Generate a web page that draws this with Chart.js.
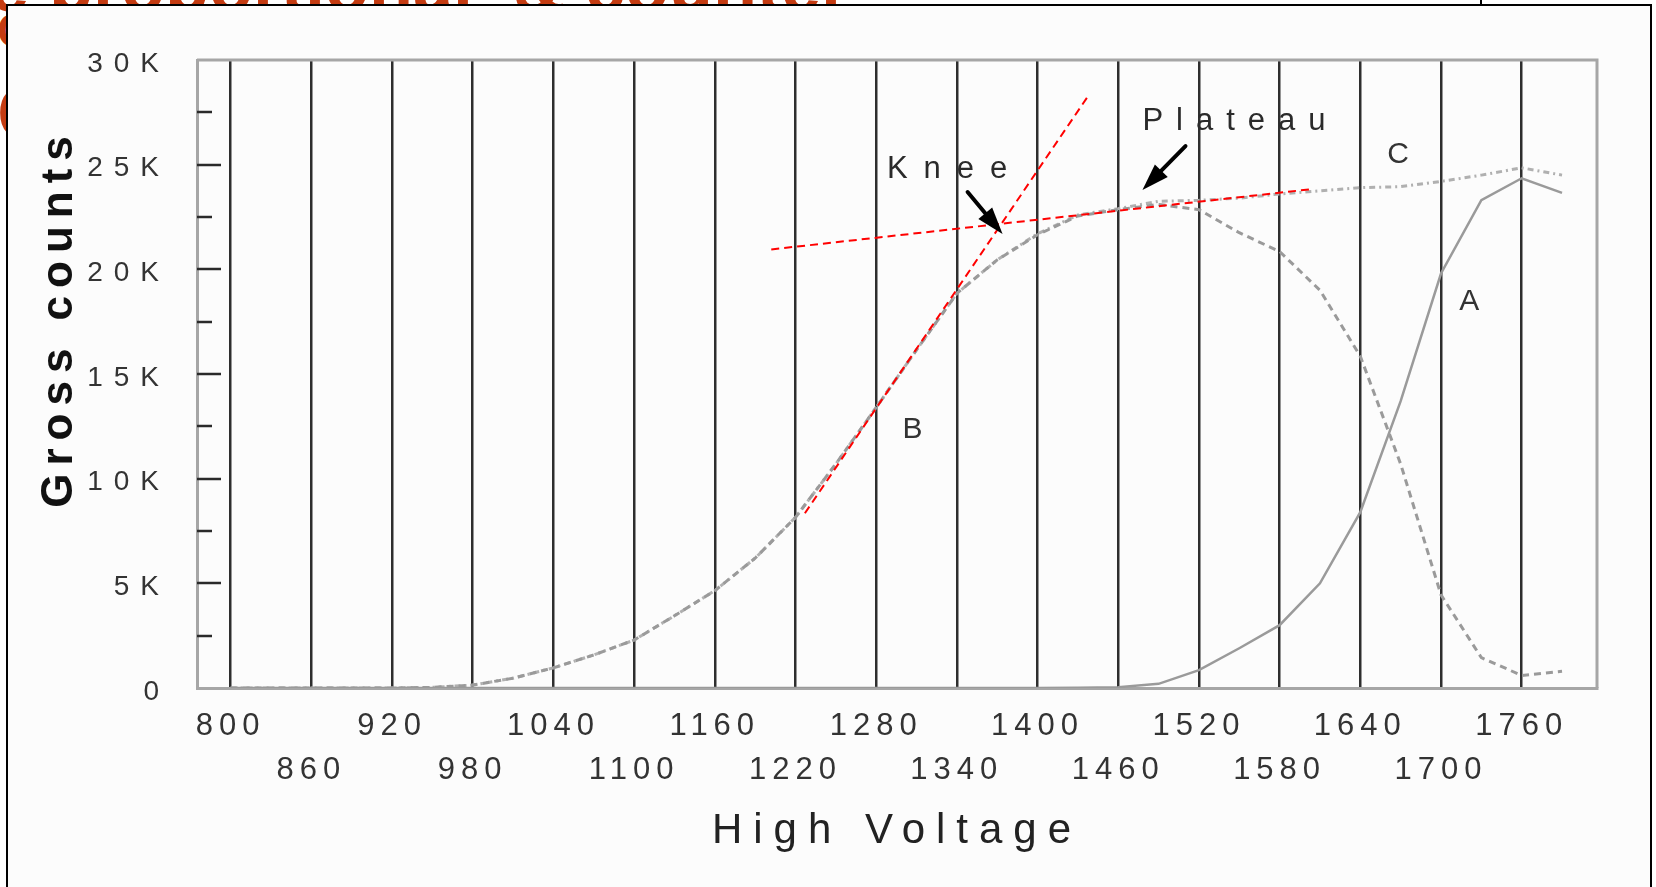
<!DOCTYPE html>
<html>
<head>
<meta charset="utf-8">
<title>Gross counts vs High Voltage</title>
<script src="https://cdn.jsdelivr.net/npm/chart.js@4.4.0/dist/chart.umd.min.js"></script>
<style>
  html, body { margin: 0; padding: 0; background: #fff; overflow: hidden; }
  #page { position: relative; width: 1656px; height: 887px; overflow: hidden; background: #fff; }
  .slide-title {
    position: absolute; left: -55px; top: -50px;
    font: bold 72px "Liberation Sans", Arial, sans-serif; color: #c43c12;
    white-space: pre; line-height: 72px;
  }
  .slide-side {
    position: absolute; left: -3px;
    font: bold 48px "Liberation Sans", Arial, sans-serif; color: #c43c12;
  }
  #frame {
    position: absolute; left: 6px; top: 4px; width: 1642px; height: 920px;
    border: 2px solid #000; background: #fcfcfc;
  }
  #notch { position: absolute; left: 1480px; top: 0; width: 2px; height: 6px; background: #000; }
  #chart { position: absolute; left: 0; top: 0; }
</style>
</head>
<body>
<div id="page">
  <div class="slide-title">ge proportional  &amp; counter</div>
  <div class="slide-side" style="top:7px; line-height:48px">G</div>
  <div class="slide-side" style="top:75px; font-size:76px; line-height:76px">C</div>
  <div id="notch"></div>
  <div id="frame"></div>
  <canvas id="chart" width="1656" height="887"></canvas>
</div>
<script>
// High voltage settings (V)
const voltages = [800, 830, 860, 890, 920, 950, 980, 1010, 1040, 1070, 1100, 1130, 1160, 1190, 1220, 1250, 1280, 1310, 1340, 1370, 1400, 1430, 1460, 1490, 1520, 1550, 1580, 1610, 1640, 1670, 1700, 1730, 1760, 1790];

// Gross counts, curve A (solid)
const countsA = [0, 0, 0, 0, 0, 0, 0, 0, 0, 0, 0, 0, 0, 0, 0, 0, 0, 0, 0, 0, 0, 10, 40, 200, 850, 1900, 3000, 5000, 8400, 13700, 19800, 23300, 24350, 23650];

// Gross counts, curve B (dashed)
const countsB = [0, 0, 0, 0, 0, 30, 140, 470, 960, 1580, 2290, 3450, 4650, 6200, 8150, 10700, 13400, 16150, 18850, 20450, 21650, 22550, 22850, 23100, 22850, 21750, 20850, 19000, 15850, 10700, 4450, 1450, 600, 800];

// Gross counts, curve C (dotted)
const countsC = [0, 0, 0, 0, 0, 30, 140, 470, 960, 1580, 2290, 3450, 4650, 6200, 8150, 10700, 13400, 16150, 18850, 20450, 21700, 22600, 22900, 23250, 23300, 23400, 23600, 23750, 23900, 23950, 24200, 24500, 24850, 24500];

// axis ticks
const xTickValues = [800, 860, 920, 980, 1040, 1100, 1160, 1220, 1280, 1340, 1400, 1460, 1520, 1580, 1640, 1700, 1760];
const yTickValues = [0, 2500, 5000, 7500, 10000, 12500, 15000, 17500, 20000, 22500, 25000, 27500, 30000];

// red tangent lines (knee construction)
const kneeLineX = [1227, 1437];
const kneeLineY = [8350, 28220];
const plateauLineX = [1202, 1605];
const plateauLineY = [20950, 23840];

// text labels and arrows, in data units
const curveLabels = [
  { text: 'A', x: 1721, y: 18440 },
  { text: 'B', x: 1307, y: 12330 },
  { text: 'C', x: 1668, y: 25460 }
];
const calloutLabels = [
  { text: 'Knee', x: 1288, y: 24360, tailX: 1348, tailY: 23690, headX: 1374, headY: 21690 },
  { text: 'Plateau', x: 1478, y: 26660, tailX: 1510, tailY: 25890, headX: 1478, headY: 23790 }
];

const toPoints = (xs, ys) => xs.map((x, i) => ({ x: x, y: ys[i] }));

function formatCounts(v) {
  if (v === 0) return '0';
  if (v % 5000 !== 0) return '';
  return (v / 1000) + 'K';
}

function drawArrow(ctx, x1, y1, x2, y2) {
  const ang = Math.atan2(y2 - y1, x2 - x1);
  const headLen = 27, headW = 9;
  const bx = x2 - headLen * Math.cos(ang), by = y2 - headLen * Math.sin(ang);
  ctx.beginPath();
  ctx.moveTo(x1, y1);
  ctx.lineTo(bx, by);
  ctx.lineWidth = 4;
  ctx.lineCap = 'round';
  ctx.strokeStyle = '#000';
  ctx.stroke();
  ctx.beginPath();
  ctx.moveTo(x2, y2);
  ctx.lineTo(bx + headW * Math.sin(ang), by - headW * Math.cos(ang));
  ctx.lineTo(bx - headW * Math.sin(ang), by + headW * Math.cos(ang));
  ctx.closePath();
  ctx.fillStyle = '#000';
  ctx.fill();
}

// tick labels are letter-spaced in the original
const spacedLabels = {
  id: 'spacedLabels',
  beforeDraw(chart) {
    const spacing = { x: '6px', y: '11px' };
    Object.values(chart.scales).forEach(s => {
      if (s._spaced) return;
      const orig = s.drawLabels;
      s.drawLabels = function(area) {
        const c = this.ctx;
        const prev = c.letterSpacing;
        c.letterSpacing = spacing[this.id] || '0px';
        orig.call(this, area);
        c.letterSpacing = prev;
      };
      s._spaced = true;
    });
  }
};

// top/right frame and inward minor/major ticks on the count axis
const plotFrame = {
  id: 'plotFrame',
  beforeDatasetsDraw(chart) {
    const { ctx, chartArea: a, scales: { y } } = chart;
    ctx.save();
    ctx.strokeStyle = '#a6a6a6';
    ctx.lineWidth = 3;
    ctx.beginPath();
    ctx.moveTo(a.left, a.top);
    ctx.lineTo(a.right, a.top);
    ctx.lineTo(a.right, a.bottom);
    ctx.stroke();
    ctx.strokeStyle = '#2a2a2a';
    ctx.lineWidth = 2.5;
    y.ticks.forEach(t => {
      if (t.value === 0 || t.value === 30000) return;
      const py = Math.round(y.getPixelForValue(t.value));
      const len = t.value % 5000 === 0 ? 24 : 15;
      ctx.beginPath();
      ctx.moveTo(a.left, py);
      ctx.lineTo(a.left + len, py);
      ctx.stroke();
    });
    ctx.restore();
  }
};

// axis titles, curve letters, Knee / Plateau callouts
const annotations = {
  id: 'annotations',
  afterDatasetsDraw(chart) {
    const { ctx, chartArea: a, scales: { x, y } } = chart;
    ctx.save();
    ctx.fillStyle = '#333';
    ctx.font = '30px "Liberation Sans", Arial, sans-serif';
    ctx.textAlign = 'center';
    ctx.textBaseline = 'middle';
    curveLabels.forEach(l => ctx.fillText(l.text, x.getPixelForValue(l.x), y.getPixelForValue(l.y)));

    calloutLabels.forEach(l => {
      ctx.fillStyle = '#2a2a2a';
      ctx.font = '31px "Liberation Sans", Arial, sans-serif';
      ctx.textAlign = 'left';
      ctx.textBaseline = 'alphabetic';
      ctx.letterSpacing = l.text === 'Knee' ? '16px' : '13px';
      ctx.fillText(l.text, x.getPixelForValue(l.x), y.getPixelForValue(l.y));
      ctx.letterSpacing = '0px';
      drawArrow(ctx, x.getPixelForValue(l.tailX), y.getPixelForValue(l.tailY),
                x.getPixelForValue(l.headX), y.getPixelForValue(l.headY));
    });

    // x axis title
    ctx.fillStyle = '#222';
    ctx.font = '42px "Liberation Sans", Arial, sans-serif';
    ctx.textAlign = 'center';
    ctx.textBaseline = 'middle';
    ctx.letterSpacing = '11px';
    ctx.fillText('High Voltage', (a.left + a.right) / 2, a.bottom + 143);

    // y axis title
    ctx.translate(60, a.top + 258);
    ctx.rotate(-Math.PI / 2);
    ctx.fillStyle = '#111';
    ctx.font = 'bold 44px "Liberation Sans", Arial, sans-serif';
    ctx.letterSpacing = '8px';
    ctx.fillText('Gross counts', 0, 0);
    ctx.restore();
  }
};

const grayLine = '#9a9a9a';

new Chart(document.getElementById('chart'), {
  type: 'line',
  data: {
    datasets: [
      { label: 'Knee tangent', data: toPoints(kneeLineX, kneeLineY), borderColor: '#ff0000', borderWidth: 2, borderDash: [8, 5], pointRadius: 0, order: 0 },
      { label: 'Plateau tangent', data: toPoints(plateauLineX, plateauLineY), borderColor: '#ff0000', borderWidth: 2, borderDash: [8, 5], pointRadius: 0, order: 0 },
      { label: 'A', data: toPoints(voltages, countsA), borderColor: grayLine, borderWidth: 2.5, pointRadius: 0, order: 1 },
      { label: 'B', data: toPoints(voltages, countsB), borderColor: grayLine, borderWidth: 3, borderDash: [7, 5], pointRadius: 0, order: 1 },
      { label: 'C', data: toPoints(voltages, countsC), borderColor: '#b0b0b0', borderWidth: 3, borderDash: [6, 4, 2, 4], pointRadius: 0, order: 1 }
    ]
  },
  options: {
    responsive: false,
    animation: false,
    events: [],
    devicePixelRatio: 1,
    layout: { padding: { left: 0, right: 59, top: 60, bottom: 0 } },
    plugins: {
      legend: { display: false },
      tooltip: { enabled: false }
    },
    scales: {
      x: {
        type: 'linear',
        min: 775,
        max: 1816,
        afterBuildTicks: s => { s.ticks = xTickValues.map(v => ({ value: v })); },
        afterFit: s => { s.height = 199; },
        grid: { color: '#2e2e2e', lineWidth: 2.5, drawTicks: false },
        border: { color: '#a6a6a6', width: 3 },
        ticks: {
          autoSkip: false,
          maxRotation: 0,
          minRotation: 0,
          padding: 16,
          color: '#333',
          font: { family: '"Liberation Sans", Arial, sans-serif', size: 31, lineHeight: 1.42 },
          callback: (v, i) => i % 2 === 0 ? String(v) : ['', String(v)]
        }
      },
      y: {
        min: 0,
        max: 30000,
        afterBuildTicks: s => { s.ticks = yTickValues.map(v => ({ value: v })); },
        afterFit: s => { s.width = 197; },
        grid: { display: false },
        border: { color: '#a6a6a6', width: 3 },
        ticks: {
          padding: 19,
          labelOffset: 4,
          color: '#333',
          font: { family: '"Liberation Sans", Arial, sans-serif', size: 28 },
          callback: v => formatCounts(v)
        }
      }
    }
  },
  plugins: [spacedLabels, plotFrame, annotations]
});
</script>
</body>
</html>
